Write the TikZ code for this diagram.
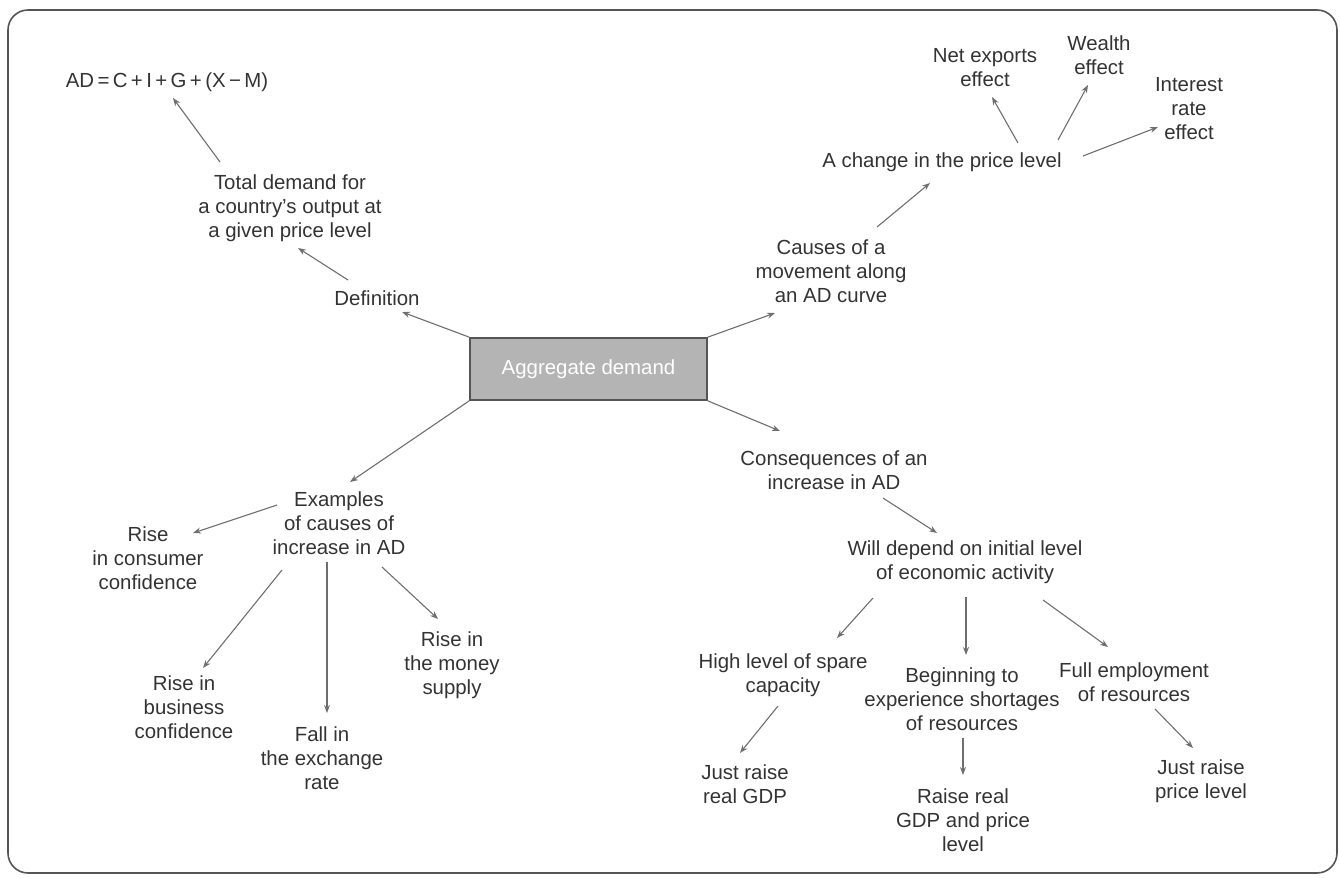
\documentclass[tikz,border=0pt]{standalone}
\usepackage{fontspec}
\setmainfont{Liberation Sans}
\usetikzlibrary{arrows.meta,calc}
\definecolor{ink}{HTML}{333333}
\definecolor{wire}{HTML}{6E6E6E}
\definecolor{boxfill}{HTML}{B4B4B4}
\definecolor{frameline}{HTML}{555555}
\begin{document}
\begin{tikzpicture}[x=1pt,y=-1pt,
  lbl/.style={align=center,text=ink,inner sep=0pt,font=\fontsize{20.4}{24}\selectfont},
  arr/.style={draw=wire,line width=1.1pt,-{Stealth[open,fill=white,length=8pt,width=6pt]}},
  hub/.style={draw=frameline,line width=1.8pt,fill=boxfill,minimum width=237pt,minimum height=62pt,
    inner sep=0pt,text=white,font=\fontsize{20.4}{24}\selectfont}]
\useasboundingbox (0,0) rectangle (1340,878);
% outer frame
\draw[frameline,line width=1.6pt,rounded corners=20pt] (8,10) rectangle (1337,873);

% central topic
\node[hub] (ad) at (588.5,369) {Aggregate demand};

% definition branch
\node[lbl] (eq) at (167,82) {AD\,=\,C\,+\,I\,+\,G\,+\,(X\,−\,M)};
\node[lbl] (total) at (290,208) {Total demand for\\a country's output at\\a given price level};
\node[lbl] (defn) at (377,298) {Definition};

% movement along the curve
\node[lbl] (causes) at (831,271) {Causes of a\\movement along\\an AD curve};
\node[lbl] (price) at (942,162) {A change in the price level};
\node[lbl] (netx) at (985,68) {Net exports\\effect};
\node[lbl] (wealth) at (1099,55) {Wealth\\effect};
\node[lbl] (interest) at (1189,109) {Interest\\rate\\effect};

% consequences branch
\node[lbl] (cons) at (834,470) {Consequences of an\\increase in AD};
\node[lbl] (will) at (965,562) {Will depend on initial level\\of economic activity};
\node[lbl] (high) at (783,675) {High level of spare\\capacity};
\node[lbl] (begin) at (962,699) {Beginning to\\experience shortages\\of resources};
\node[lbl] (full) at (1134,682) {Full employment\\of resources};
\node[lbl] (jrgdp) at (745,784) {Just raise\\real GDP};
\node[lbl] (raise) at (963,820) {Raise real\\GDP and price\\level};
\node[lbl] (jrpl) at (1201,781) {Just raise\\price level};

% examples branch
\node[lbl] (examples) at (339,523) {Examples\\of causes of\\increase in AD};
\node[lbl] (consumer) at (148,558) {Rise\\in consumer\\confidence};
\node[lbl] (business) at (184,707) {Rise in\\business\\confidence};
\node[lbl] (exchange) at (322,758) {Fall in\\the exchange\\rate};
\node[lbl] (money) at (452,665) {Rise in\\the money\\supply};

% connectors
\draw[arr] ($(total)+(-70,-46)$) -- ($(eq)+(6,16)$);
\draw[arr] ($(defn)+(-29,-18)$) -- ($(total)+(8,40)$);
\draw[arr] (ad.north west) -- ($(defn)+(25,14)$);
\draw[arr] (ad.north east) -- ($(causes)+(-56,42)$);
\draw[arr] ($(causes)+(46,-44)$) -- ($(price)+(-12,21)$);
\draw[arr] ($(price)+(76,-19)$) -- ($(netx)+(7,29)$);
\draw[arr] ($(price)+(116,-22)$) -- ($(wealth)+(-11,30)$);
\draw[arr] ($(price)+(141,-6)$) -- ($(interest)+(-31,18)$);
\draw[arr] (ad.south west) -- ($(examples)+(11,-41)$);
\draw[arr] (ad.south east) -- ($(cons)+(-54,-39)$);
\draw[arr] ($(cons)+(49,28)$) -- ($(will)+(-28,-29)$);
\draw[arr] ($(will)+(-92,36)$) -- ($(high)+(54,-37)$);
\draw[arr] ($(will)+(1,35)$) -- ($(begin)+(4,-44)$);
\draw[arr] ($(will)+(78,38)$) -- ($(full)+(-26,-35)$);
\draw[arr] ($(high)+(-5,31)$) -- ($(jrgdp)+(-5,-31)$);
\draw[arr] ($(begin)+(1,39)$) -- ($(raise)+(0,-45)$);
\draw[arr] ($(full)+(21,27)$) -- ($(jrpl)+(-8,-33)$);
\draw[arr] ($(examples)+(-62,-18)$) -- ($(consumer)+(45,-25)$);
\draw[arr] ($(examples)+(-57,47)$) -- ($(business)+(19,-39)$);
\draw[arr] ($(examples)+(-12,39)$) -- ($(exchange)+(5,-45)$);
\draw[arr] ($(examples)+(43,44)$) -- ($(money)+(-14,-46)$);
\end{tikzpicture}
\end{document}
